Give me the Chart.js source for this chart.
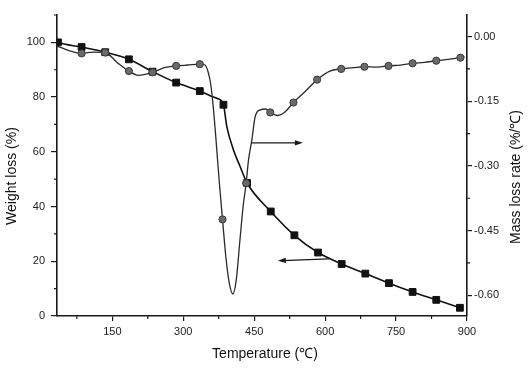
<!DOCTYPE html>
<html><head><meta charset="utf-8">
<script src="https://cdn.jsdelivr.net/npm/chart.js@4.4.1/dist/chart.umd.min.js"></script>
<style>html,body{margin:0;padding:0;background:#fff}#wrap{width:528px;height:383px}</style>
</head><body><div id="wrap"><canvas id="c" width="528" height="383"></canvas></div>
<script>
// ---- data ----
const tempTicks = [150, 300, 450, 600, 750, 900];
const weightTicks = [0, 20, 40, 60, 80, 100];
const rateTicks = [0, -0.15, -0.30, -0.45, -0.60];
const tempMinorTicks = [75, 225, 375, 525, 675, 825];
const weightMinorTicks = [10, 30, 50, 70, 90, 110];
const rateMinorTicks = [-0.075, -0.225, -0.375, -0.525];

const weightMarkerTemp = [35, 85, 135, 185, 235, 285, 335, 385, 435, 485, 535, 585, 635, 685, 735, 785, 835, 885];
const weightMarkerValue = [100, 98.3, 96.4, 93.8, 89.3, 85.3, 82.2, 77.2, 48.6, 38.2, 29.5, 23.2, 19.0, 15.5, 12.0, 8.8, 5.9, 3.0];
const weightCurveTemp = [33, 35, 85, 135, 185, 235, 285, 335, 357, 372, 385, 392, 406, 420, 435, 485, 535, 585, 635, 685, 735, 785, 835, 885];
const weightCurveValue = [100.2, 100, 98.3, 96.4, 93.8, 89.3, 85.3, 82.2, 80.5, 79.5, 77.2, 69.3, 60.8, 54.7, 48.6, 38.2, 29.5, 23.2, 19.0, 15.5, 12.0, 8.8, 5.9, 3.0];

const rateMarkerTemp = [85, 135, 185, 235, 285, 335, 383, 433, 484, 533, 583, 634, 683, 734, 785, 835, 886];
const rateMarkerValue = [-0.039, -0.037, -0.080, -0.083, -0.068, -0.064, -0.424, -0.340, -0.176, -0.153, -0.100, -0.075, -0.070, -0.068, -0.062, -0.056, -0.049];
const rateCurveTemp = [33, 60, 85, 110, 135, 160, 185, 205, 235, 260, 285, 310, 335, 346, 352, 358, 364, 370, 376, 383, 390, 397, 405, 412, 420, 427, 433, 438, 445, 452, 463, 474, 484, 500, 515, 533, 560, 583, 610, 634, 660, 683, 710, 734, 760, 785, 810, 835, 860, 886, 895];
const rateCurveValue = [-0.022, -0.033, -0.039, -0.036, -0.037, -0.060, -0.080, -0.090, -0.083, -0.072, -0.068, -0.066, -0.064, -0.066, -0.080, -0.110, -0.170, -0.250, -0.335, -0.424, -0.510, -0.570, -0.597, -0.565, -0.470, -0.390, -0.340, -0.286, -0.240, -0.186, -0.170, -0.168, -0.176, -0.183, -0.175, -0.153, -0.125, -0.100, -0.080, -0.075, -0.072, -0.070, -0.071, -0.068, -0.066, -0.062, -0.060, -0.056, -0.053, -0.049, -0.047];

// annotation arrows (data units): [fromTemp, fromWeight, toTemp, toWeight]
const arrowToRight = [445, 63.3, 553, 63.3];
const arrowToLeft = [608, 20.9, 500, 20.2];

// ---- build ----
const pts = (xs, ys) => xs.map((x, i) => ({x: x, y: ys[i]}));
const FONT = "'Liberation Sans', Arial, sans-serif";
const INK = '#1a1a1a';
Chart.defaults.font.family = FONT;
Chart.defaults.font.size = 11;
Chart.defaults.color = '#222';

const setTicks = (vals) => (s) => { s.ticks = vals.map(v => ({value: v})); };

const extras = {
  id: 'extras',
  afterDatasetsDraw(chart) {
    const {ctx, scales: {x, y, y1}, chartArea: a} = chart;
    ctx.save();
    ctx.strokeStyle = INK; ctx.fillStyle = INK; ctx.lineWidth = 1.2;
    // minor ticks
    ctx.beginPath();
    tempMinorTicks.forEach(v => { const px = x.getPixelForValue(v); ctx.moveTo(px, a.bottom); ctx.lineTo(px, a.bottom + 3); });
    weightMinorTicks.forEach(v => { const py = y.getPixelForValue(v); ctx.moveTo(a.left, py); ctx.lineTo(a.left - 3, py); });
    rateMinorTicks.forEach(v => { const py = y1.getPixelForValue(v); ctx.moveTo(a.right, py); ctx.lineTo(a.right + 3, py); });
    ctx.stroke();
    // arrows
    [arrowToRight, arrowToLeft].forEach(ar => {
      const x0 = x.getPixelForValue(ar[0]), y0 = y.getPixelForValue(ar[1]);
      const x1 = x.getPixelForValue(ar[2]), y1p = y.getPixelForValue(ar[3]);
      const ang = Math.atan2(y1p - y0, x1 - x0);
      ctx.beginPath(); ctx.moveTo(x0, y0); ctx.lineTo(x1 - 5 * Math.cos(ang), y1p - 5 * Math.sin(ang)); ctx.stroke();
      ctx.beginPath();
      ctx.moveTo(x1, y1p);
      ctx.lineTo(x1 - 8 * Math.cos(ang) + 2.6 * Math.sin(ang), y1p - 8 * Math.sin(ang) - 2.6 * Math.cos(ang));
      ctx.lineTo(x1 - 8 * Math.cos(ang) - 2.6 * Math.sin(ang), y1p - 8 * Math.sin(ang) + 2.6 * Math.cos(ang));
      ctx.closePath(); ctx.fill();
    });
    // axis titles
    ctx.fillStyle = '#111';
    ctx.font = "14px " + FONT;
    ctx.textAlign = 'center'; ctx.textBaseline = 'middle';
    ctx.fillText('Temperature (\u2103)', (a.left + a.right) / 2 + 3, 354);
    ctx.save(); ctx.translate(12, 176); ctx.rotate(-Math.PI / 2); ctx.fillText('Weight loss (%)', 0, 0); ctx.restore();
    ctx.save(); ctx.translate(516, 177); ctx.rotate(-Math.PI / 2); ctx.fillText('Mass loss rate (%/\u2103)', 0, 0); ctx.restore();
    ctx.restore();
  }
};

const axisGrid = {display: true, drawOnChartArea: false, drawTicks: true, tickLength: 5, color: INK, lineWidth: 1.2};
const axisBorder = {display: true, color: INK, width: 1.6};

new Chart(document.getElementById('c'), {
  type: 'scatter',
  data: {
    datasets: [
      {label: 'rate markers', data: pts(rateMarkerTemp, rateMarkerValue), yAxisID: 'y1', showLine: false,
        pointStyle: 'circle', pointRadius: 3.6, pointBackgroundColor: '#6a6a6a', pointBorderColor: '#3a3a3a', pointBorderWidth: 1},
      {label: 'weight markers', data: pts(weightMarkerTemp, weightMarkerValue), yAxisID: 'y', showLine: false,
        pointStyle: 'rect', pointRadius: 4.8, pointBackgroundColor: '#111', pointBorderColor: '#111', pointBorderWidth: 1},
      {label: 'rate', data: pts(rateCurveTemp, rateCurveValue), yAxisID: 'y1', showLine: true, pointRadius: 0,
        borderColor: '#2a2a2a', borderWidth: 1.3, cubicInterpolationMode: 'monotone', fill: false},
      {label: 'weight', data: pts(weightCurveTemp, weightCurveValue), yAxisID: 'y', showLine: true, pointRadius: 0,
        borderColor: '#111', borderWidth: 1.6, cubicInterpolationMode: 'monotone', fill: false}
    ]
  },
  options: {
    responsive: false, animation: false, devicePixelRatio: 1,
    layout: {padding: {top: 15, left: 0, right: 0, bottom: 0}},
    plugins: {legend: {display: false}, tooltip: {enabled: false}},
    scales: {
      x: {type: 'linear', position: 'bottom', min: 33, max: 900,
        afterBuildTicks: setTicks(tempTicks), afterFit: s => { s.height = 67; },
        grid: axisGrid, border: axisBorder,
        ticks: {padding: 4, maxRotation: 0, autoSkip: false, color: '#222', font: {size: 11}}},
      y: {type: 'linear', position: 'left', min: 0, max: 110,
        afterBuildTicks: setTicks(weightTicks), afterFit: s => { s.width = 57; },
        grid: Object.assign({}, axisGrid, {tickLength: 6}), border: axisBorder,
        ticks: {padding: 6, autoSkip: false, color: '#222', font: {size: 11}}},
      y1: {type: 'linear', position: 'right', min: -0.648, max: 0.05,
        afterBuildTicks: setTicks(rateTicks), afterFit: s => { s.width = 61; },
        grid: axisGrid, border: axisBorder,
        ticks: {padding: 2, autoSkip: false, color: '#222', font: {size: 11}, callback: v => v.toFixed(2)}}
    }
  },
  plugins: [extras]
});
</script></body></html>
